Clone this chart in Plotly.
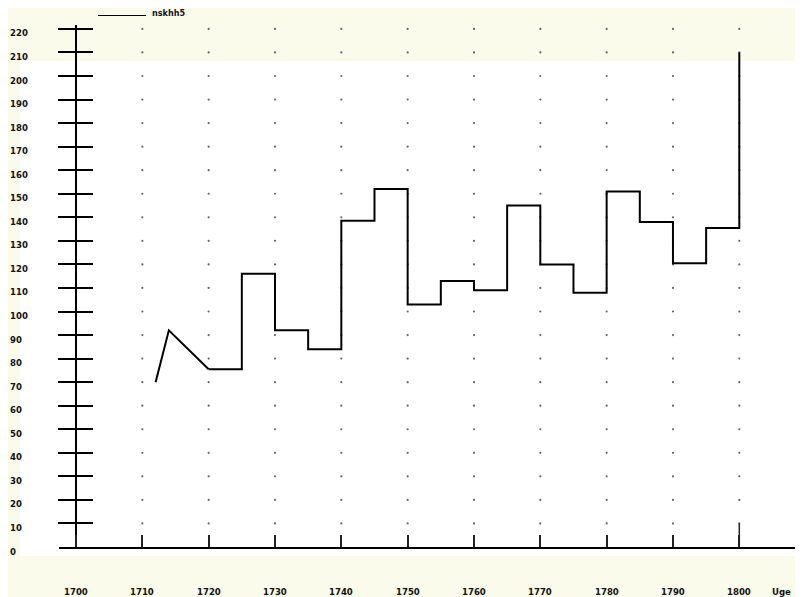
import plotly.graph_objects as go

# ---- data ----
series_name = "nskhh5"
ramp_years = [1712, 1714, 1720]
ramp_values = [70, 92, 75.5]
step_years = [1720, 1725, 1730, 1735, 1740, 1745, 1750, 1755, 1760, 1765,
              1770, 1775, 1780, 1785, 1790, 1795, 1800]
step_values = [75.5, 116, 92, 84, 138.5, 152, 103, 113, 109, 145,
               120, 108, 151, 138, 120.5, 135.5, 210]
x_ticks = list(range(1700, 1801, 10))
y_ticks = list(range(0, 221, 10))
x_title = "Uge"

# ---- geometry (page has an 8px body margin) ----
OFF = 8
W, H = 803 - OFF, 597 - OFF
ML, MR, MT, MB = 59 - OFF, 0, 25 - OFF, 50
PW, PH = W - ML - MR, H - MT - MB
px_per_year = 6.633
px_per_unit = 2.355
x0 = 1700 - 17 / px_per_year
xr = [x0, x0 + PW / px_per_year]
yr = [0, PH / px_per_unit]

def px_to_paper_x(px):
    return (px - OFF - ML) / PW

def px_to_paper_y(py):
    return (H - MB - (py - OFF)) / PH

font_fam = "Liberation Sans Narrow, DejaVu Sans Condensed, Arial Narrow, DejaVu Sans, sans-serif"
tick_font = dict(family=font_fam, size=9.5, color="#111")

fig = go.Figure()

# grid dots
gx, gy = [], []
for xv in x_ticks[1:]:
    for yv in y_ticks[1:]:
        gx.append(xv)
        gy.append(yv)
fig.add_trace(go.Scatter(x=gx, y=gy, mode="markers",
                         marker=dict(size=2.2, color="#666"),
                         hoverinfo="skip", showlegend=False))

# data
fig.add_trace(go.Scatter(x=ramp_years, y=ramp_values, mode="lines",
                         line=dict(color="black", width=2),
                         name=series_name, showlegend=False))
fig.add_trace(go.Scatter(x=step_years, y=step_values, mode="lines",
                         line=dict(color="black", width=2, shape="hv"),
                         name=series_name, showlegend=False))

shapes = []
# white paper region (scan look)
shapes.append(dict(type="rect", xref="paper", yref="paper",
                   x0=px_to_paper_x(20), x1=1.0,
                   y0=px_to_paper_y(556), y1=px_to_paper_y(61),
                   fillcolor="white", line=dict(width=0), layer="below"))
# tall tick at last year
shapes.append(dict(type="line", xref="x", yref="y",
                   x0=x_ticks[-1], x1=x_ticks[-1], y0=0, y1=y_ticks[1],
                   line=dict(color="#222", width=1.5)))
# legend sample line
shapes.append(dict(type="line", xref="paper", yref="paper",
                   x0=px_to_paper_x(98), x1=px_to_paper_x(146),
                   y0=px_to_paper_y(15.5), y1=px_to_paper_y(15.5),
                   line=dict(color="black", width=1.2)))

annotations = []
# legend text
annotations.append(dict(text=f"<b>{series_name}</b>", xref="paper", yref="paper",
                        x=px_to_paper_x(150), y=px_to_paper_y(13),
                        xanchor="left", yanchor="middle", showarrow=False,
                        font=dict(family=font_fam, size=9, color="#111")))
# y tick labels
for v in y_ticks:
    annotations.append(dict(text=f"<b>{v}</b>", xref="paper", yref="y",
                            x=px_to_paper_x(8), y=v, yshift=-4,
                            xanchor="left", yanchor="middle", showarrow=False,
                            font=tick_font))
# x tick labels
for v in x_ticks:
    annotations.append(dict(text=f"<b>{v}</b>", xref="x", yref="paper",
                            x=v, y=0, yshift=-44,
                            xanchor="center", yanchor="middle", showarrow=False,
                            font=tick_font))
annotations.append(dict(text=f"<b>{x_title}</b>", xref="paper", yref="paper",
                        x=px_to_paper_x(781), y=0, yshift=-44,
                        xanchor="center", yanchor="middle", showarrow=False,
                        font=tick_font))

axis_pos = px_to_paper_x(76)
fig.update_layout(
    width=W, height=H,
    margin=dict(l=ML, r=MR, t=MT, b=MB, pad=0),
    paper_bgcolor="#fbfbeb",
    plot_bgcolor="rgba(0,0,0,0)",
    showlegend=False,
    shapes=shapes,
    annotations=annotations,
    xaxis=dict(range=xr, showgrid=False, zeroline=False,
               showline=True, linecolor="black", linewidth=2,
               tickmode="array", tickvals=x_ticks, ticks="inside",
               ticklen=12, tickwidth=1.5, tickcolor="#222",
               showticklabels=False, fixedrange=True),
    yaxis=dict(range=yr, showgrid=False, zeroline=False,
               anchor="free", position=axis_pos,
               showline=True, linecolor="black", linewidth=1.5,
               tickmode="array", tickvals=y_ticks[1:], ticks="outside",
               ticklen=17, tickwidth=2, tickcolor="black",
               showticklabels=False, fixedrange=True),
    yaxis2=dict(range=yr, overlaying="y", showgrid=False, zeroline=False,
                anchor="free", position=axis_pos,
                showline=False,
                tickmode="array", tickvals=y_ticks[1:], ticks="inside",
                ticklen=16, tickwidth=2, tickcolor="black",
                showticklabels=False, fixedrange=True),
)
# dummy trace to activate yaxis2
fig.add_trace(go.Scatter(x=[None], y=[None], yaxis="y2", showlegend=False,
                         hoverinfo="skip"))

fig.write_html("out.html")
